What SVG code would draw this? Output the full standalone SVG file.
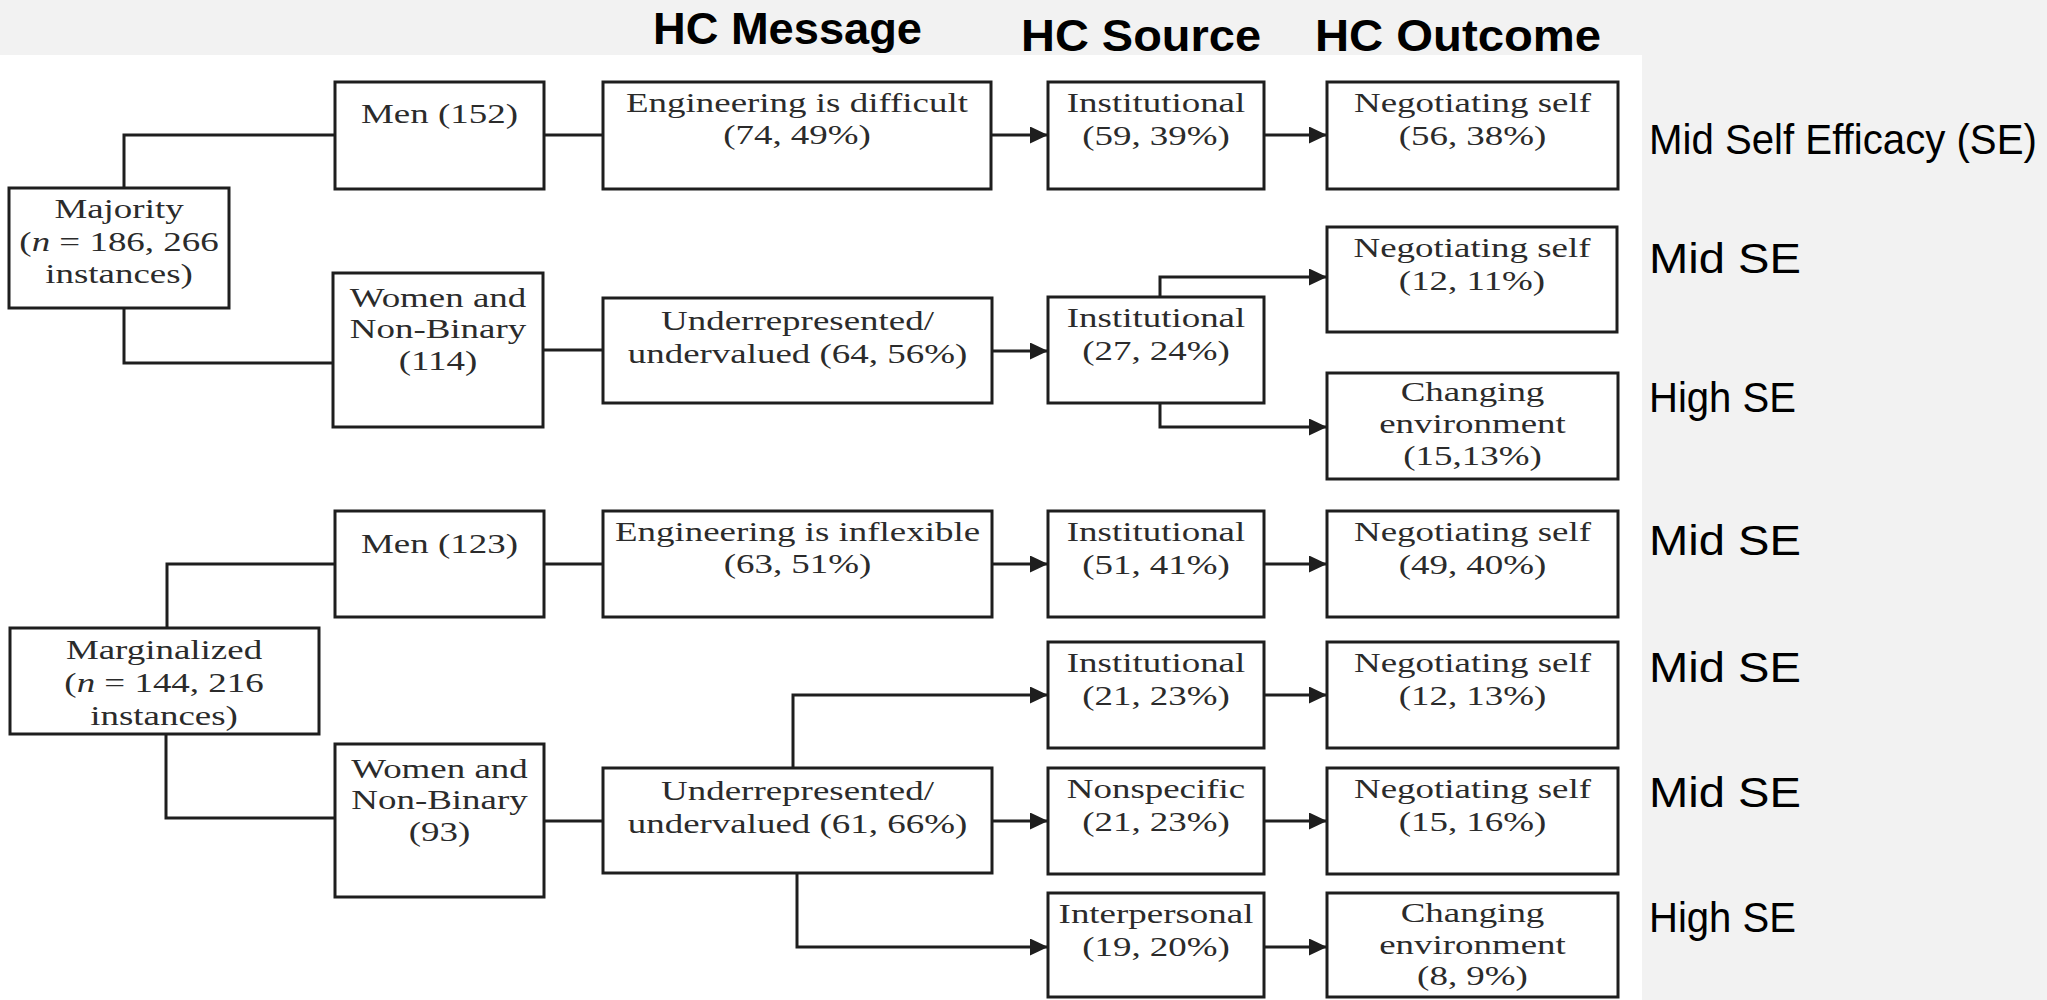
<svg xmlns="http://www.w3.org/2000/svg" width="2047" height="1000" viewBox="0 0 2047 1000">
  <style>
    .box { fill: #ffffff; stroke: #1e1e1e; stroke-width: 3; }
    .t { font-family: "Liberation Serif", "Times New Roman", serif; font-size: 28px; fill: #2b2b2b; text-anchor: middle; }
    .hd { font-family: "Liberation Sans", Arial, sans-serif; font-weight: bold; font-size: 45px; fill: #000000; }
    .se { font-family: "Liberation Sans", Arial, sans-serif; font-size: 43px; fill: #000000; }
    .c { fill: none; stroke: #1e1e1e; stroke-width: 3; }
    .a { marker-end: url(#ah); }
  </style>
  <defs>
    <marker id="ah" markerUnits="userSpaceOnUse" markerWidth="18" markerHeight="17" refX="18" refY="8.5" orient="auto">
      <path d="M0,0 L18,8.5 L0,17 Z" fill="#1e1e1e"/>
    </marker>
  </defs>

  <!-- page background -->
  <rect x="0" y="0" width="2047" height="1000" fill="#f2f2f2"/>
  <rect x="0" y="55" width="1642" height="945" fill="#ffffff"/>

  <!-- column headings -->
  <g id="headings">
    <text class="hd" x="653" y="44" textLength="269" lengthAdjust="spacingAndGlyphs">HC Message</text>
    <text class="hd" x="1021" y="51" textLength="240" lengthAdjust="spacingAndGlyphs">HC Source</text>
    <text class="hd" x="1315" y="51" textLength="286" lengthAdjust="spacingAndGlyphs">HC Outcome</text>
  </g>

  <!-- self-efficacy labels -->
  <g id="se-labels" xml:space="preserve">
    <text class="se" transform="translate(1649 154) scale(0.935 1)" x="0" y="0">Mid Self Efficacy (SE)</text>
    <text class="se" x="1649" y="273" textLength="152" lengthAdjust="spacingAndGlyphs">Mid   SE</text>
    <text class="se" x="1649" y="412" textLength="147" lengthAdjust="spacingAndGlyphs">High SE</text>
    <text class="se" x="1649" y="555" textLength="152" lengthAdjust="spacingAndGlyphs">Mid   SE</text>
    <text class="se" x="1649" y="682" textLength="152" lengthAdjust="spacingAndGlyphs">Mid   SE</text>
    <text class="se" x="1649" y="807" textLength="152" lengthAdjust="spacingAndGlyphs">Mid   SE</text>
    <text class="se" x="1649" y="932" textLength="147" lengthAdjust="spacingAndGlyphs">High SE</text>
  </g>

  <!-- connectors -->
  <g id="connectors">
    <path class="c" d="M124,188 V135 H335"/>
    <path class="c" d="M124,308 V363 H333"/>
    <path class="c" d="M544,135 H603"/>
    <path class="c" d="M543,350 H603"/>
    <path class="c a" d="M991,135 H1048"/>
    <path class="c a" d="M1264,135 H1327"/>
    <path class="c a" d="M992,351 H1048"/>
    <path class="c a" d="M1160,297 V277 H1327"/>
    <path class="c a" d="M1160,403 V427 H1327"/>
    <path class="c" d="M167,628 V564 H335"/>
    <path class="c" d="M166,734 V818 H335"/>
    <path class="c" d="M544,564 H603"/>
    <path class="c" d="M544,821 H603"/>
    <path class="c a" d="M992,564 H1048"/>
    <path class="c a" d="M1264,564 H1327"/>
    <path class="c a" d="M793,768 V695 H1048"/>
    <path class="c a" d="M992,821 H1048"/>
    <path class="c a" d="M797,873 V947 H1048"/>
    <path class="c a" d="M1264,695 H1327"/>
    <path class="c a" d="M1264,821 H1327"/>
    <path class="c a" d="M1264,947 H1327"/>
  </g>

  <!-- group roots -->
  <g id="majority">
    <rect class="box" x="9" y="188" width="220" height="120"/>
    <text class="t" transform="translate(119 0) scale(1.32 1)"><tspan x="0" y="218">Majority</tspan><tspan x="0" y="251">(<tspan font-style="italic">n</tspan> = 186, 266</tspan><tspan x="0" y="283">instances)</tspan></text>
  </g>
  <g id="marginalized">
    <rect class="box" x="10" y="628" width="309" height="106"/>
    <text class="t" transform="translate(164 0) scale(1.32 1)"><tspan x="0" y="659">Marginalized</tspan><tspan x="0" y="692">(<tspan font-style="italic">n</tspan> = 144, 216</tspan><tspan x="0" y="725">instances)</tspan></text>
  </g>

  <!-- gender groups -->
  <g id="men-152">
    <rect class="box" x="335" y="82" width="209" height="107"/>
    <text class="t" transform="translate(439.5 0) scale(1.32 1)"><tspan x="0" y="123">Men (152)</tspan></text>
  </g>
  <g id="women-114">
    <rect class="box" x="333" y="273" width="210" height="154"/>
    <text class="t" transform="translate(438 0) scale(1.32 1)"><tspan x="0" y="307">Women and</tspan><tspan x="0" y="338">Non-Binary</tspan><tspan x="0" y="370">(114)</tspan></text>
  </g>
  <g id="men-123">
    <rect class="box" x="335" y="511" width="209" height="106"/>
    <text class="t" transform="translate(439.5 0) scale(1.32 1)"><tspan x="0" y="553">Men (123)</tspan></text>
  </g>
  <g id="women-93">
    <rect class="box" x="335" y="744" width="209" height="153"/>
    <text class="t" transform="translate(439.5 0) scale(1.32 1)"><tspan x="0" y="778">Women and</tspan><tspan x="0" y="809">Non-Binary</tspan><tspan x="0" y="841">(93)</tspan></text>
  </g>

  <!-- messages -->
  <g id="msg-difficult">
    <rect class="box" x="603" y="82" width="388" height="107"/>
    <text class="t" transform="translate(797 0) scale(1.32 1)"><tspan x="0" y="112">Engineering is difficult</tspan><tspan x="0" y="144">(74, 49%)</tspan></text>
  </g>
  <g id="msg-under-64">
    <rect class="box" x="603" y="298" width="389" height="105"/>
    <text class="t" transform="translate(797.5 0) scale(1.32 1)"><tspan x="0" y="330">Underrepresented/</tspan><tspan x="0" y="363">undervalued (64, 56%)</tspan></text>
  </g>
  <g id="msg-inflexible">
    <rect class="box" x="603" y="511" width="389" height="106"/>
    <text class="t" transform="translate(797.5 0) scale(1.32 1)"><tspan x="0" y="541">Engineering is inflexible</tspan><tspan x="0" y="573">(63, 51%)</tspan></text>
  </g>
  <g id="msg-under-61">
    <rect class="box" x="603" y="768" width="389" height="105"/>
    <text class="t" transform="translate(797.5 0) scale(1.32 1)"><tspan x="0" y="800">Underrepresented/</tspan><tspan x="0" y="833">undervalued (61, 66%)</tspan></text>
  </g>

  <!-- sources -->
  <g id="src-inst-59">
    <rect class="box" x="1048" y="82" width="216" height="107"/>
    <text class="t" transform="translate(1156 0) scale(1.32 1)"><tspan x="0" y="112">Institutional</tspan><tspan x="0" y="145">(59, 39%)</tspan></text>
  </g>
  <g id="src-inst-27">
    <rect class="box" x="1048" y="297" width="216" height="106"/>
    <text class="t" transform="translate(1156 0) scale(1.32 1)"><tspan x="0" y="327">Institutional</tspan><tspan x="0" y="360">(27, 24%)</tspan></text>
  </g>
  <g id="src-inst-51">
    <rect class="box" x="1048" y="511" width="216" height="106"/>
    <text class="t" transform="translate(1156 0) scale(1.32 1)"><tspan x="0" y="541">Institutional</tspan><tspan x="0" y="574">(51, 41%)</tspan></text>
  </g>
  <g id="src-inst-21">
    <rect class="box" x="1048" y="642" width="216" height="106"/>
    <text class="t" transform="translate(1156 0) scale(1.32 1)"><tspan x="0" y="672">Institutional</tspan><tspan x="0" y="705">(21, 23%)</tspan></text>
  </g>
  <g id="src-nonspecific">
    <rect class="box" x="1048" y="768" width="216" height="106"/>
    <text class="t" transform="translate(1156 0) scale(1.32 1)"><tspan x="0" y="798">Nonspecific</tspan><tspan x="0" y="831">(21, 23%)</tspan></text>
  </g>
  <g id="src-interpersonal">
    <rect class="box" x="1048" y="893" width="216" height="104"/>
    <text class="t" transform="translate(1156 0) scale(1.32 1)"><tspan x="0" y="923">Interpersonal</tspan><tspan x="0" y="956">(19, 20%)</tspan></text>
  </g>

  <!-- outcomes -->
  <g id="out-neg-56">
    <rect class="box" x="1327" y="82" width="291" height="107"/>
    <text class="t" transform="translate(1472.5 0) scale(1.32 1)"><tspan x="0" y="112">Negotiating self</tspan><tspan x="0" y="145">(56, 38%)</tspan></text>
  </g>
  <g id="out-neg-12a">
    <rect class="box" x="1327" y="227" width="290" height="105"/>
    <text class="t" transform="translate(1472 0) scale(1.32 1)"><tspan x="0" y="257">Negotiating self</tspan><tspan x="0" y="290">(12, 11%)</tspan></text>
  </g>
  <g id="out-change-15">
    <rect class="box" x="1327" y="373" width="291" height="106"/>
    <text class="t" transform="translate(1472.5 0) scale(1.32 1)"><tspan x="0" y="401">Changing</tspan><tspan x="0" y="433">environment</tspan><tspan x="0" y="465">(15,13%)</tspan></text>
  </g>
  <g id="out-neg-49">
    <rect class="box" x="1327" y="511" width="291" height="106"/>
    <text class="t" transform="translate(1472.5 0) scale(1.32 1)"><tspan x="0" y="541">Negotiating self</tspan><tspan x="0" y="574">(49, 40%)</tspan></text>
  </g>
  <g id="out-neg-12b">
    <rect class="box" x="1327" y="642" width="291" height="106"/>
    <text class="t" transform="translate(1472.5 0) scale(1.32 1)"><tspan x="0" y="672">Negotiating self</tspan><tspan x="0" y="705">(12, 13%)</tspan></text>
  </g>
  <g id="out-neg-15">
    <rect class="box" x="1327" y="768" width="291" height="106"/>
    <text class="t" transform="translate(1472.5 0) scale(1.32 1)"><tspan x="0" y="798">Negotiating self</tspan><tspan x="0" y="831">(15, 16%)</tspan></text>
  </g>
  <g id="out-change-8">
    <rect class="box" x="1327" y="893" width="291" height="104"/>
    <text class="t" transform="translate(1472.5 0) scale(1.32 1)"><tspan x="0" y="922">Changing</tspan><tspan x="0" y="954">environment</tspan><tspan x="0" y="985">(8, 9%)</tspan></text>
  </g>
</svg>
